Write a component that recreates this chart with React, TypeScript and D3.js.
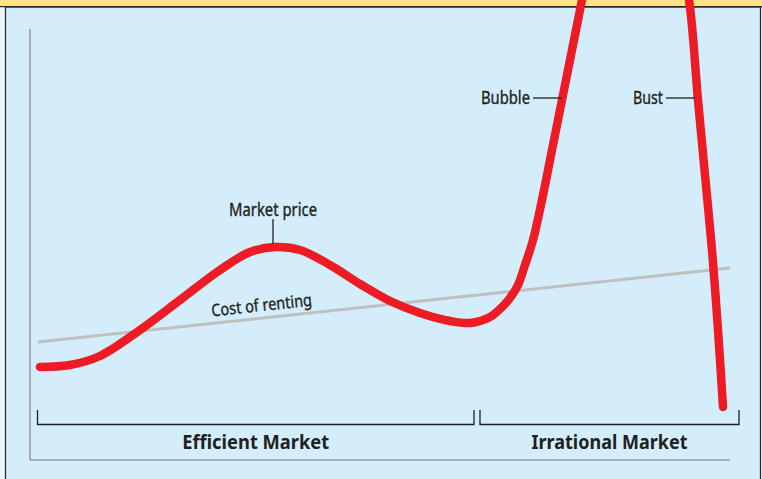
import React from "react";
import * as d3 from "d3";

// Conceptual housing-market chart: time along x, price along y (arbitrary units)
const marketTime = [2, 8, 14, 22, 30, 38, 44, 49, 54, 60, 66, 72, 78, 84, 88, 92, 94, 96, 97.6, 99, 100.6, 102.4, 104.4, 106.4, 108.4, 110.4, 114, 118, 123, 127, 130, 131.8, 133.6, 135, 136.4, 137.6, 138.6];
const marketPrice = [18.6, 19, 20.8, 26, 32, 38, 41.6, 42.6, 42, 39, 35.2, 31.8, 29.4, 27.8, 27.4, 28.6, 30.2, 32.4, 35, 39, 44, 52, 62, 72, 82, 92, 110, 122, 124, 114, 100, 92, 72, 57, 42, 26, 10.6];

const rentTime = [1.6, 140];
const rentCost = [23.6, 38.4];

const phaseNames = ["Efficient Market", "Irrational Market"];
const phaseStart = [1.5, 90];
const phaseEnd = [88.8, 141.8];

const callouts = ["Bubble", "Bust"];
const calloutTime = [106.4, 133];
const calloutPrice = [72.4, 72.4];

const peakLabel = "Market price";
const peakTime = 48.6;
const peakPrice = 43.2;

const rentLabel = "Cost of renting";

const W = 762;
const H = 479;
const INK = "#231f20";
const FONT = "'Noto Sans', 'Open Sans', sans-serif";

export default function App() {
  const x = d3.scaleLinear().domain([0, 140]).range([30, 730]);
  const y = d3.scaleLinear().domain([0, 86]).range([460, 30]);

  const market = marketTime.map((t, i) => [t, marketPrice[i]] as [number, number]);
  const rent = rentTime.map((t, i) => [t, rentCost[i]] as [number, number]);

  const line = d3
    .line<[number, number]>()
    .x((d) => x(d[0]))
    .y((d) => y(d[1]))
    .curve(d3.curveCatmullRom.alpha(0.5));
  const straight = d3
    .line<[number, number]>()
    .x((d) => x(d[0]))
    .y((d) => y(d[1]));

  // rent line angle for the rotated label
  const ang =
    (Math.atan2(y(rentCost[1]) - y(rentCost[0]), x(rentTime[1]) - x(rentTime[0])) * 180) / Math.PI;
  const rentLabelT = 36.4;
  const rentLabelV = rentCost[0] + ((rentLabelT - rentTime[0]) / (rentTime[1] - rentTime[0])) * (rentCost[1] - rentCost[0]);

  const bracketTop = 410;
  const bracketBottom = 424.5;

  const textStroke = { stroke: INK, strokeWidth: 0.35 };

  return (
    <svg
      width={W}
      height={H}
      style={{ position: "absolute", left: 0, top: 0, display: "block" }}
    >
      {/* panel */}
      <rect x={0} y={0} width={W} height={H} fill="#eaf6fc" />
      <rect x={5.5} y={7} width={755} height={H} fill="#d3eefa" stroke="#2b2b2b" strokeWidth={1.3} />
      <rect x={0} y={0} width={W} height={6.4} fill="#fde38a" />
      <line x1={0} x2={W} y1={6.6} y2={6.6} stroke="#2b2b2b" strokeWidth={1.4} />

      {/* axes */}
      <line x1={x(0)} x2={x(0)} y1={y(86.2)} y2={y(0)} stroke="#9a9a9a" strokeWidth={1.6} />
      <line x1={x(0)} x2={x(140)} y1={y(0)} y2={y(0)} stroke="#9a9a9a" strokeWidth={1.6} />

      {/* cost of renting */}
      <path d={straight(rent) ?? ""} fill="none" stroke="#c0c0c0" strokeWidth={3} />
      <text
        transform={`translate(${x(rentLabelT)},${y(rentLabelV) - 7}) rotate(${ang})`}
        fontFamily={FONT}
        fontSize={17}
        fill={INK}
        {...textStroke}
        textLength={101}
        lengthAdjust="spacingAndGlyphs"
      >
        {rentLabel}
      </text>

      {/* phase brackets */}
      {phaseNames.map((name, i) => {
        const x0 = x(phaseStart[i]);
        const x1 = x(phaseEnd[i]);
        return (
          <g key={name}>
            <path
              d={`M${x0},${bracketTop}V${bracketBottom}H${x1}V${bracketTop}`}
              fill="none"
              stroke={INK}
              strokeWidth={1.3}
            />
            <text
              x={(x0 + x1) / 2}
              y={448.5}
              textAnchor="middle"
              fontFamily={FONT}
              fontWeight="bold"
              fontSize={19.5}
              fill={INK}
              textLength={i === 0 ? 147 : 156}
              lengthAdjust="spacingAndGlyphs"
            >
              {name}
            </text>
          </g>
        );
      })}

      {/* market price */}
      <path
        d={line(market) ?? ""}
        fill="none"
        stroke="#ed1c24"
        strokeWidth={8.5}
        strokeLinecap="round"
        strokeLinejoin="round"
      />

      {/* annotations */}
      <line x1={x(peakTime)} x2={x(peakTime)} y1={219} y2={y(peakPrice)} stroke={INK} strokeWidth={1.3} />
      <text
        x={x(peakTime)}
        y={215.5}
        textAnchor="middle"
        fontFamily={FONT}
        fontSize={17.5}
        fill={INK}
        {...textStroke}
        textLength={88}
        lengthAdjust="spacingAndGlyphs"
      >
        {peakLabel}
      </text>
      {callouts.map((c, i) => {
        const ex = x(calloutTime[i]);
        const ey = y(calloutPrice[i]);
        return (
          <g key={c}>
            <line x1={ex - 29} x2={ex} y1={ey} y2={ey} stroke={INK} strokeWidth={1.3} />
            <text
              x={ex - 32}
              y={ey + 5.5}
              textAnchor="end"
              fontFamily={FONT}
              fontSize={17.5}
              fill={INK}
              {...textStroke}
              textLength={i === 0 ? 49 : 30}
              lengthAdjust="spacingAndGlyphs"
            >
              {c}
            </text>
          </g>
        );
      })}
    </svg>
  );
}
